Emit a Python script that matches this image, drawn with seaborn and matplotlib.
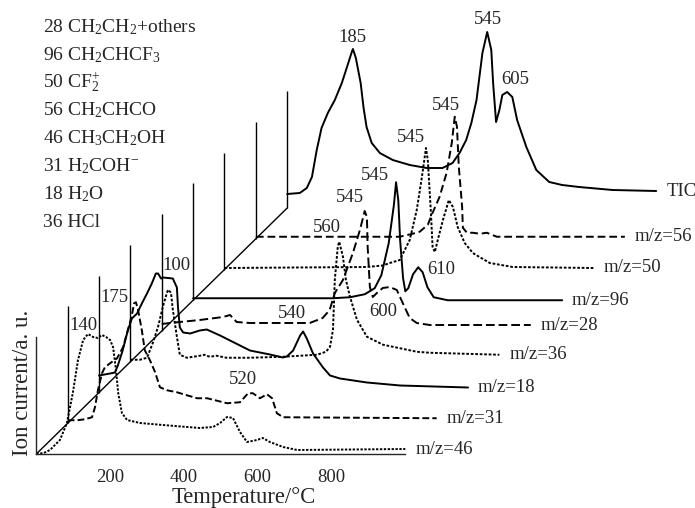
import matplotlib
matplotlib.use("Agg")
import matplotlib.pyplot as plt
import numpy as np
import pandas as pd
import seaborn as sns

# ---------------- data (temperature in °C, ion current in a.u.) ----------------
traces = ["m/z=46", "m/z=31", "m/z=18", "m/z=36", "m/z=28", "m/z=96", "m/z=50", "m/z=56", "TIC"]

t_46 = [0, 20, 37, 64, 83, 99, 113, 127, 140, 154, 167, 178, 189, 200, 208, 216, 222, 232, 246,
        281, 343, 409, 443, 479, 498, 517, 533, 552, 571, 598, 614, 633, 669, 707, 1000]
i_46 = [0, 1, 4, 14, 31, 61, 94, 114, 120, 117, 116, 119, 117, 114, 107, 84, 61, 41, 34,
        31, 29, 27, 26, 27, 31, 37, 36, 22, 12, 14, 16, 12, 7, 4, 5]

t_31 = [0, 25, 47, 66, 74, 82, 93, 101, 115, 134, 150, 163, 174, 180, 185, 191, 201, 209, 223,
        237, 250, 269, 296, 323, 351, 378, 432, 467, 489, 502, 521, 540, 554, 567, 584, 1000]
i_31 = [3, 3, 4, 6, 16, 33, 50, 56, 60, 65, 76, 93, 108, 120, 121, 113, 93, 73, 63,
        51, 36, 33, 31, 28, 25, 25, 20, 21, 30, 30, 25, 29, 25, 10, 6, 5]

t_18 = [0, 30, 43, 51, 64, 78, 89, 103, 116, 130, 143, 154, 160, 168, 173, 200, 211, 214, 219,
        228, 247, 273, 292, 328, 382, 409, 436, 463, 498, 509, 526, 545, 553, 563, 580, 607,
        626, 653, 726, 816, 1000]
i_18 = [17, 19, 20, 27, 42, 62, 74, 79, 89, 99, 109, 119, 119, 114, 115, 114, 105, 85, 65,
        60, 59, 62, 63, 57, 47, 42, 40, 38, 35, 36, 42, 57, 61, 54, 39, 25,
        17, 14, 10, 7, 5]

t_36 = [0, 26, 45, 61, 75, 88, 99, 102, 110, 115, 126, 134, 153, 188, 200, 215, 234, 260, 324,
        413, 506, 530, 541, 549, 554, 562, 566, 576, 584, 595, 614, 641, 685, 776, 811, 1000]
i_36 = [2, 2, 4, 19, 35, 55, 69, 72, 69, 52, 25, 7, 4, 6, 7, 5, 6, 4, 4,
        5, 7, 10, 15, 32, 82, 115, 120, 105, 82, 65, 42, 25, 17, 10, 9, 7]

t_28 = [0, 22, 103, 166, 185, 203, 239, 328, 401, 436, 455, 469, 491, 518, 537, 550, 556, 558,
        564, 572, 583, 599, 618, 637, 653, 672, 691, 726, 1000]
i_28 = [7, 8, 11, 14, 16, 9, 8, 8, 8, 13, 21, 38, 51, 78, 101, 120, 114, 84,
        44, 34, 38, 43, 44, 41, 28, 13, 8, 6, 6]

t_96 = [0, 379, 425, 465, 492, 510, 530, 544, 550, 556, 561, 569, 575, 583, 596, 610, 622, 635,
        652, 690, 777, 1000]
i_96 = [2, 2, 3, 6, 12, 25, 57, 95, 118, 100, 60, 22, 9, 12, 26, 33, 28, 13,
        3, 0, 0, 0]

t_50 = [0, 386, 429, 448, 475, 502, 521, 535, 546, 551, 559, 564, 570, 578, 592, 608, 619, 632,
        651, 673, 691, 719, 781, 1000]
i_50 = [1.5, 2.5, 4, 6.5, 9.5, 29.5, 59.5, 92.5, 121.5, 109.5, 59.5, 22.5, 17.5, 29.5, 49.5,
        69.5, 62.5, 42.5, 26.5, 16.5, 12.5, 6.5, 2.5, 1.5]

t_56 = [0, 390, 425, 444, 466, 479, 498, 517, 531, 539, 545, 550, 559, 561, 572, 588, 607, 626,
        653, 1000]
i_56 = [2, 2, 5, 7, 14, 26, 42, 66, 96, 122, 112, 72, 32, 11, 6, 6, 5, 6, 2, 2]

t_tic = [0, 34, 53, 67, 80, 93, 110, 129, 148, 162, 175, 178, 186, 199, 207, 215, 229, 251, 286,
         332, 378, 421, 448, 467, 485, 499, 513, 529, 542, 553, 558, 566, 575, 583, 596, 610,
         623, 648, 675, 710, 745, 791, 882, 1000]
i_tic = [14, 15, 20, 31, 58, 80, 95, 108, 125, 141, 156, 159, 150, 125, 100, 81, 65, 55, 48,
         43, 40, 40, 45, 55, 68, 85, 108, 155, 176, 158, 125, 86, 98, 113, 116, 111,
         88, 61, 38, 26, 23, 21, 18, 17]

all_t = [t_46, t_31, t_18, t_36, t_28, t_96, t_50, t_56, t_tic]
all_i = [i_46, i_31, i_18, i_36, i_28, i_96, i_50, i_56, i_tic]

peak_labels = ["140", "175", "100", "520", "540", "560", "545", "600", "545", "610",
               "545", "545", "185", "545", "605"]

species = ["28 CH$_2$CH$_2$+others", "96 CH$_2$CHCF$_3$", "50 CF$_2^{+}$", "56 CH$_2$CHCO",
           "46 CH$_3$CH$_2$OH", "31 H$_2$COH$^{-}$", "18 H$_2$O", "36 HCl"]

x_ticks = [200, 400, 600, 800]
x_minor = [100, 300, 500, 700, 900]

# ---------------- layout / style ----------------
DX, DY = 85.0, 30.75          # waterfall offset per trace (°C, a.u.)
WALL_H = 117.0
styles = {
    "m/z=46": (0, (1.2, 0.8)),
    "m/z=31": (0, (3.5, 1.6)),
    "m/z=18": "-",
    "m/z=36": (0, (1.4, 0.9)),
    "m/z=28": (0, (4.5, 2.0)),
    "m/z=96": "-",
    "m/z=50": (0, (1.4, 0.9)),
    "m/z=56": (0, (4.0, 2.0)),
    "TIC": "-",
}
peak_pos = [(129, 129), (213, 157), (379, 189), (560, 74), (693, 141), (788, 227), (850, 256),
            (940, 142), (918, 279), (1097, 184), (1015, 317), (1110, 349), (858, 417),
            (1224, 434), (1297, 374)]

sns.set_style("white")
plt.rcParams["font.family"] = ["Liberation Serif", "DejaVu Serif"]
plt.rcParams["mathtext.fontset"] = "custom"
plt.rcParams["mathtext.rm"] = "Liberation Serif"
plt.rcParams["mathtext.it"] = "Liberation Serif:italic"
plt.rcParams["mathtext.bf"] = "Liberation Serif:bold"

rows = []
for k, (name, t, i) in enumerate(zip(traces, all_t, all_i)):
    for tt, ii in zip(t, i):
        rows.append({"trace": name, "T": tt, "I": ii, "X": tt + k * DX, "Y": ii + k * DY})
df = pd.DataFrame(rows)

fig = plt.figure(figsize=(6.95, 5.08), dpi=100)
ax = fig.add_axes([36.3 / 695, 54 / 508, 1 - 36.3 / 695, 454 / 508])
ax.set_xlim(0, (695 - 36.3) / 0.369)
ax.set_ylim(0, 454)

for k, name in enumerate(traces):
    sub = df[df["trace"] == name]
    sns.lineplot(data=sub, x="X", y="Y", estimator=None, sort=False, ax=ax,
                 color="black", lw=1.4, linestyle=styles[name], clip_on=False,
                 legend=False, solid_joinstyle="round")
    ax.text(sub["X"].iloc[-1] + 27, sub["Y"].iloc[-1], name, fontsize=13.5,
            ha="left", va="center")

# walls and diagonal
n = len(traces)
ax.vlines([k * DX for k in range(1, n)], [k * DY for k in range(1, n)],
          [k * DY + WALL_H for k in range(1, n)], color="black", lw=1.0)
ax.plot([0, (n - 1) * DX], [0, (n - 1) * DY], color="black", lw=1.0)

for lab, (px, py) in zip(peak_labels, peak_pos):
    ax.text(px, py, lab, fontsize=13.5, ha="center", va="center")

for j, s in enumerate(species):
    ax.text(18, 454 - (32 + 27.9 * j), s, fontsize=14, ha="left", va="baseline")

for side in ["top", "right"]:
    ax.spines[side].set_visible(False)
ax.spines["bottom"].set_bounds(0, 1000)
ax.spines["left"].set_bounds(0, WALL_H)
ax.spines["bottom"].set_linewidth(1.0)
ax.spines["left"].set_linewidth(1.0)
ax.set_xticks(x_ticks)
ax.set_xticks(x_minor, minor=True)
ax.set_yticks([])
ax.tick_params(axis="x", which="both", direction="in", length=4, width=1.0,
               labelsize=13.5, pad=11)
ax.set_xlabel("Temperature/°C", fontsize=16.3)
ax.xaxis.set_label_coords(0.3153, -0.073)
ax.set_ylabel("Ion current/a. u.", fontsize=16.5, va="center", ha="center")
ax.yaxis.set_label_coords(-0.0217, 0.1564)
ax.patch.set_alpha(0)

fig.savefig("out.png", dpi=100)
